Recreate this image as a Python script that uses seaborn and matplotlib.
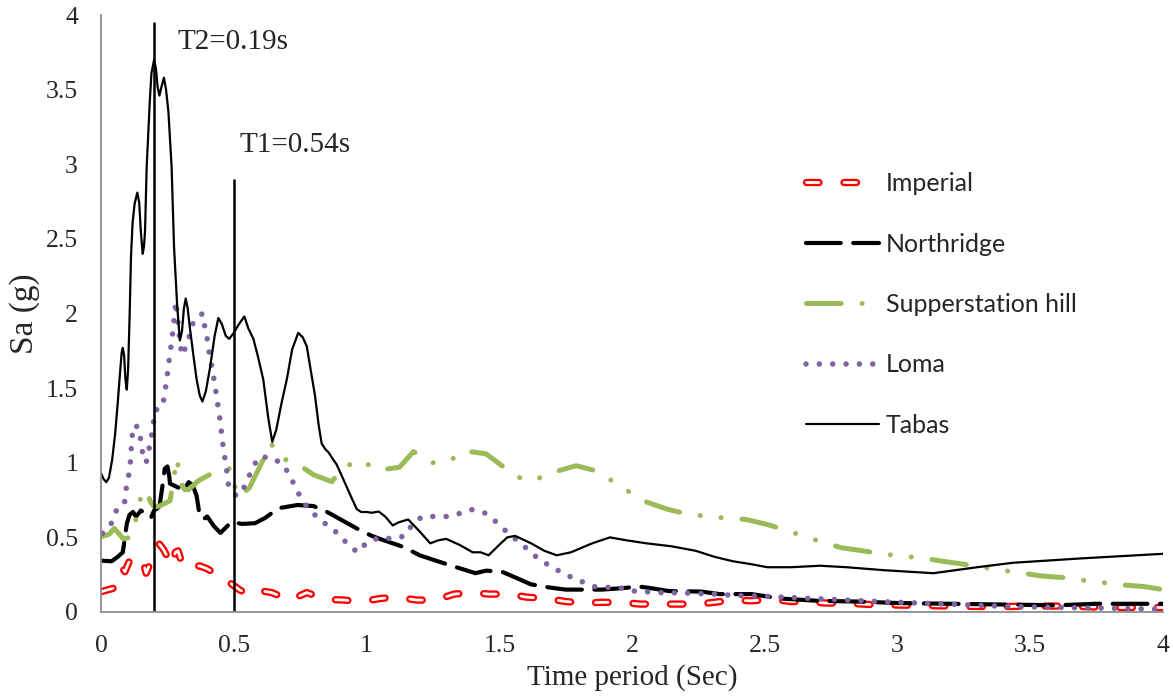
import matplotlib
matplotlib.use("Agg")
import matplotlib.pyplot as plt
import matplotlib.patheffects as pe
from matplotlib.ticker import FuncFormatter
import seaborn as sns
import pandas as pd

# spectral acceleration Sa (g) vs period (s)
imperial_t = [0.0, 0.059, 0.082, 0.09, 0.109, 0.13, 0.155, 0.17, 0.193, 0.22, 0.235, 0.262, 0.27,
              0.28, 0.29, 0.30, 0.316, 0.343, 0.37, 0.40, 0.456, 0.49, 0.523, 0.555, 0.586, 0.643,
              0.712, 0.775, 0.845, 0.915, 0.985, 1.05, 1.11, 1.19, 1.26, 1.33, 1.40, 1.46, 1.54,
              1.60, 1.68, 1.75, 1.82, 1.89, 1.96, 2.03, 2.10, 2.17, 2.25, 2.31, 2.38, 2.45, 2.53,
              2.6, 2.66, 2.73, 2.8, 2.9, 3.05, 3.2, 3.37, 3.5, 3.65, 3.8, 4.0]
imperial_sa = [0.136, 0.165, 0.29, 0.27, 0.35, 0.37, 0.355, 0.26, 0.36, 0.455, 0.42, 0.33, 0.31,
               0.40, 0.41, 0.353, 0.30, 0.286, 0.31, 0.29, 0.23, 0.19, 0.147, 0.12, 0.147, 0.13,
               0.08, 0.13, 0.085, 0.08, 0.07, 0.09, 0.10, 0.08, 0.08, 0.12, 0.13, 0.12, 0.12,
               0.10, 0.09, 0.07, 0.06, 0.065, 0.065, 0.053, 0.053, 0.053, 0.053, 0.065, 0.08, 0.075,
               0.085, 0.07, 0.07, 0.06, 0.06, 0.05, 0.045, 0.04, 0.035, 0.04, 0.04, 0.03, 0.03]

northridge_t = [0.0, 0.04, 0.063, 0.082, 0.087, 0.097, 0.107, 0.12, 0.132, 0.144, 0.15, 0.175, 0.188,
                0.2, 0.22, 0.232, 0.24, 0.25, 0.257, 0.26, 0.29, 0.31, 0.33, 0.345, 0.36, 0.37,
                0.385, 0.40, 0.425, 0.45, 0.492, 0.53, 0.58, 0.618, 0.668, 0.74, 0.80, 0.852,
                0.963, 1.02, 1.05, 1.14, 1.20, 1.32, 1.38, 1.41, 1.45, 1.51, 1.57, 1.62, 1.69,
                1.75, 1.886, 1.95, 2.03, 2.07, 2.14, 2.26, 2.33, 2.45, 2.56, 2.70, 2.85, 3.0, 3.2,
                3.4, 3.6, 3.75, 4.0]
northridge_sa = [0.344, 0.34, 0.37, 0.40, 0.46, 0.59, 0.65, 0.67, 0.64, 0.665, 0.68, 0.65, 0.63,
                 0.68, 0.706, 0.85, 0.96, 0.975, 0.91, 0.86, 0.835, 0.81, 0.87, 0.85, 0.78, 0.665,
                 0.62, 0.64, 0.576, 0.53, 0.605, 0.59, 0.595, 0.63, 0.695, 0.717, 0.71, 0.67,
                 0.56, 0.51, 0.49, 0.435, 0.38, 0.31, 0.277, 0.26, 0.277, 0.27, 0.224, 0.185, 0.164,
                 0.15, 0.15, 0.158, 0.17, 0.16, 0.14, 0.137, 0.12, 0.12, 0.09, 0.075, 0.07, 0.06, 0.055,
                 0.05, 0.045, 0.055, 0.055]

supper_t = [0.0, 0.03, 0.05, 0.07, 0.0835, 0.11, 0.133, 0.15, 0.17, 0.186, 0.20, 0.22, 0.26, 0.273,
            0.286, 0.30, 0.315, 0.33, 0.367, 0.43, 0.49, 0.50, 0.52, 0.56, 0.576, 0.611, 0.64,
            0.677, 0.734, 0.80, 0.869, 0.91, 0.973, 1.045, 1.124, 1.177, 1.25, 1.31, 1.37, 1.45,
            1.51, 1.59, 1.64, 1.71, 1.79, 1.867, 1.985, 2.05, 2.13, 2.21, 2.35, 2.43, 2.51, 2.576,
            2.714, 2.79, 2.87, 2.95, 3.10, 3.17, 3.25, 3.32, 3.47, 3.55, 3.63, 3.71, 3.86, 3.93, 4.0]
supper_sa = [0.505, 0.52, 0.56, 0.52, 0.49, 0.50, 0.63, 0.77, 0.82, 0.74, 0.705, 0.71, 0.745, 0.885,
             1.03, 0.87, 0.82, 0.82, 0.88, 0.94, 0.963, 0.86, 0.77, 0.835, 0.895, 1.02, 1.13,
             1.03, 1.0, 0.92, 0.873, 0.963, 1.02, 0.95, 0.97, 1.075, 1.0, 1.01, 1.08, 1.06,
             0.98, 0.885, 0.89, 0.94, 0.98, 0.945, 0.81, 0.74, 0.69, 0.655, 0.63, 0.62, 0.586, 0.55,
             0.47, 0.43, 0.41, 0.387, 0.36, 0.34, 0.32, 0.30, 0.26, 0.24, 0.23, 0.21, 0.18, 0.17, 0.15]

loma_t = [0.006, 0.038, 0.057, 0.088, 0.094, 0.103, 0.11, 0.117, 0.122, 0.14, 0.15, 0.157, 0.17,
          0.18, 0.19, 0.197, 0.203, 0.232, 0.247, 0.26, 0.272, 0.282, 0.298, 0.305, 0.318, 0.335,
          0.348, 0.382, 0.39, 0.40, 0.408, 0.42, 0.435, 0.448, 0.46, 0.474, 0.48, 0.51, 0.53,
          0.55, 0.57, 0.593, 0.641, 0.684, 0.71, 0.732, 0.755, 0.785, 0.82, 0.86, 0.90, 0.93,
          0.967, 1.0, 1.05, 1.10, 1.145, 1.17, 1.21, 1.30, 1.35, 1.396, 1.444, 1.484, 1.52,
          1.597, 1.635, 1.676, 1.72, 1.763, 1.81, 1.857, 1.91, 1.96, 2.01, 2.108, 2.2, 2.306,
          2.40, 2.51, 2.56, 2.93, 3.44, 3.96, 4.0]
loma_sa = [0.527, 0.59, 0.677, 0.72, 0.82, 0.90, 0.99, 1.17, 1.25, 1.24, 1.15, 1.06, 1.0,
           1.085, 1.175, 1.26, 1.35, 1.375, 1.55, 1.73, 1.90, 2.08, 1.80, 1.72, 1.77, 1.86,
           1.945, 2.0, 1.92, 1.83, 1.73, 1.62, 1.45, 1.29, 1.11, 0.94, 0.85, 0.777, 0.80,
           0.88, 0.96, 1.037, 1.037, 0.99, 0.92, 0.835, 0.757, 0.683, 0.628, 0.57, 0.516, 0.45,
           0.40, 0.464, 0.50, 0.49, 0.51, 0.58, 0.64, 0.64, 0.66, 0.686, 0.665, 0.61, 0.55,
           0.435, 0.375, 0.325, 0.28, 0.24, 0.205, 0.17, 0.165, 0.16, 0.14, 0.13, 0.127, 0.12,
           0.11, 0.105, 0.10, 0.07, 0.036, 0.02, 0.02]

tabas_t = [0.0, 0.01, 0.02, 0.03, 0.042, 0.053, 0.063, 0.072, 0.078, 0.082, 0.087, 0.092, 0.097,
           0.102, 0.108, 0.113, 0.119, 0.127, 0.137, 0.144, 0.15, 0.157, 0.162, 0.166, 0.172,
           0.184, 0.19, 0.2, 0.207, 0.213, 0.22, 0.228, 0.237, 0.245, 0.254, 0.266, 0.275,
           0.287, 0.297, 0.305, 0.312, 0.319, 0.326, 0.335, 0.348, 0.36, 0.372, 0.382, 0.395,
           0.411, 0.428, 0.442, 0.455, 0.47, 0.483, 0.50, 0.52, 0.54, 0.555, 0.574, 0.59, 0.611,
           0.63, 0.645, 0.66, 0.68, 0.70, 0.72, 0.743, 0.76, 0.775, 0.79, 0.806, 0.82, 0.831,
           0.845, 0.857, 0.875, 0.887, 0.905, 0.925, 0.945, 0.963, 0.98, 1.0, 1.02, 1.046,
           1.07, 1.099, 1.12, 1.157, 1.2, 1.24, 1.27, 1.30, 1.35, 1.40, 1.43, 1.46, 1.50, 1.53,
           1.56, 1.62, 1.67, 1.716, 1.77, 1.85, 1.917, 1.98, 2.055, 2.15, 2.24, 2.31, 2.38,
           2.45, 2.51, 2.6, 2.708, 2.808, 2.95, 3.135, 3.3, 3.436, 3.7, 4.0]
tabas_sa = [0.93, 0.89, 0.87, 0.90, 1.02, 1.19, 1.40, 1.61, 1.74, 1.77, 1.72, 1.56, 1.49,
            1.62, 2.0, 2.38, 2.61, 2.74, 2.81, 2.74, 2.55, 2.40, 2.45, 2.56, 2.98,
            3.43, 3.61, 3.70, 3.64, 3.52, 3.46, 3.52, 3.58, 3.50, 3.35, 2.98, 2.45,
            2.05, 1.82, 1.88, 2.03, 2.10, 2.04, 1.90, 1.72, 1.56, 1.45, 1.41, 1.48,
            1.64, 1.85, 1.97, 1.93, 1.85, 1.83, 1.87, 1.93, 1.98, 1.90, 1.83, 1.72, 1.56,
            1.30, 1.14, 1.22, 1.40, 1.56, 1.76, 1.87, 1.84, 1.78, 1.62, 1.45, 1.25, 1.13,
            1.09, 1.07, 1.02, 0.99, 0.92, 0.84, 0.76, 0.69, 0.67, 0.67, 0.665, 0.673,
            0.64, 0.58, 0.60, 0.62, 0.54, 0.46, 0.48, 0.49, 0.45, 0.40, 0.40, 0.38, 0.45, 0.50,
            0.51, 0.46, 0.41, 0.38, 0.40, 0.46, 0.50, 0.48, 0.46, 0.44, 0.41, 0.37, 0.34,
            0.32, 0.30, 0.30, 0.31, 0.30, 0.28, 0.26, 0.30, 0.33, 0.36, 0.39]

# marked periods (vertical lines) and their labels
mark_t = [0.2, 0.5]
mark_top = [3.95, 2.9]
mark_labels = ["T2=0.19s", "T1=0.54s"]
mark_label_pos = [(0.29, 3.82), (0.52, 3.13)]

sns.set_style("white")
plt.rcParams['font.family'] = ['Liberation Serif', 'DejaVu Serif']
plt.rcParams['lines.scale_dashes'] = False

fig = plt.figure(figsize=(11.73, 6.98), dpi=100)
ax = fig.add_axes([101 / 1173, 1 - 612 / 698, 1062 / 1173, 597 / 698])


def draw(t, sa, name, **kw):
    df = pd.DataFrame({'t': t, 'sa': sa})
    sns.lineplot(data=df, x='t', y='sa', ax=ax, sort=False, estimator=None,
                 label=name, legend=False, **kw)


draw(imperial_t, imperial_sa, 'Imperial', color='white', lw=2.0,
     linestyle=(0, (9, 18)), dash_capstyle='round',
     path_effects=[pe.Stroke(linewidth=5.3, foreground='#FF0000'), pe.Normal()])
draw(northridge_t, northridge_sa, 'Northridge', color='black', lw=3.0,
     linestyle=(0, (25, 9)), dash_capstyle='round')
draw(supper_t, supper_sa, 'Supperstation hill', color='#9BBB59', lw=3.6,
     linestyle=(0, (25, 15, 0.1, 15, 0.1, 15)), dash_capstyle='round')
draw(loma_t, loma_sa, 'Loma', color='#8064A2', lw=4.0,
     linestyle=(0, (0.01, 9.6)), dash_capstyle='round')
draw(tabas_t, tabas_sa, 'Tabas', color='black', lw=1.6)

ax.vlines(mark_t, 0, mark_top, colors='black', lw=1.8)
for lab, (x, y) in zip(mark_labels, mark_label_pos):
    ax.text(x, y, lab, fontsize=21, va='center', ha='left')

ax.set_xlim(0, 4)
ax.set_ylim(0, 4)
ax.set_xticks([0, 0.5, 1, 1.5, 2, 2.5, 3, 3.5, 4])
ax.set_yticks([0, 0.5, 1, 1.5, 2, 2.5, 3, 3.5, 4])
fmt = FuncFormatter(lambda v, p: f"{v:g}")
ax.xaxis.set_major_formatter(fmt)
ax.yaxis.set_major_formatter(fmt)
ax.tick_params(axis='both', labelsize=18.5, direction='out', length=5.5, width=1.2,
               color='#8C8C8C', pad=11)
for s in ['top', 'right']:
    ax.spines[s].set_visible(False)
for s in ['left', 'bottom']:
    ax.spines[s].set_color('#8C8C8C')
    ax.spines[s].set_linewidth(1.3)

ax.set_xlabel('Time period (Sec)', fontsize=21, labelpad=5)
ax.set_ylabel('Sa (g)', fontsize=24, labelpad=4)

ax.legend(loc='upper left', bbox_to_anchor=(806 / 1173, 1 - 172 / 698),
          bbox_transform=fig.transFigure, frameon=False,
          prop={'family': 'Lato', 'size': 18}, handlelength=2.9,
          handletextpad=0.3, labelspacing=1.5, borderpad=0, borderaxespad=0)

plt.savefig('out.png', dpi=100)
